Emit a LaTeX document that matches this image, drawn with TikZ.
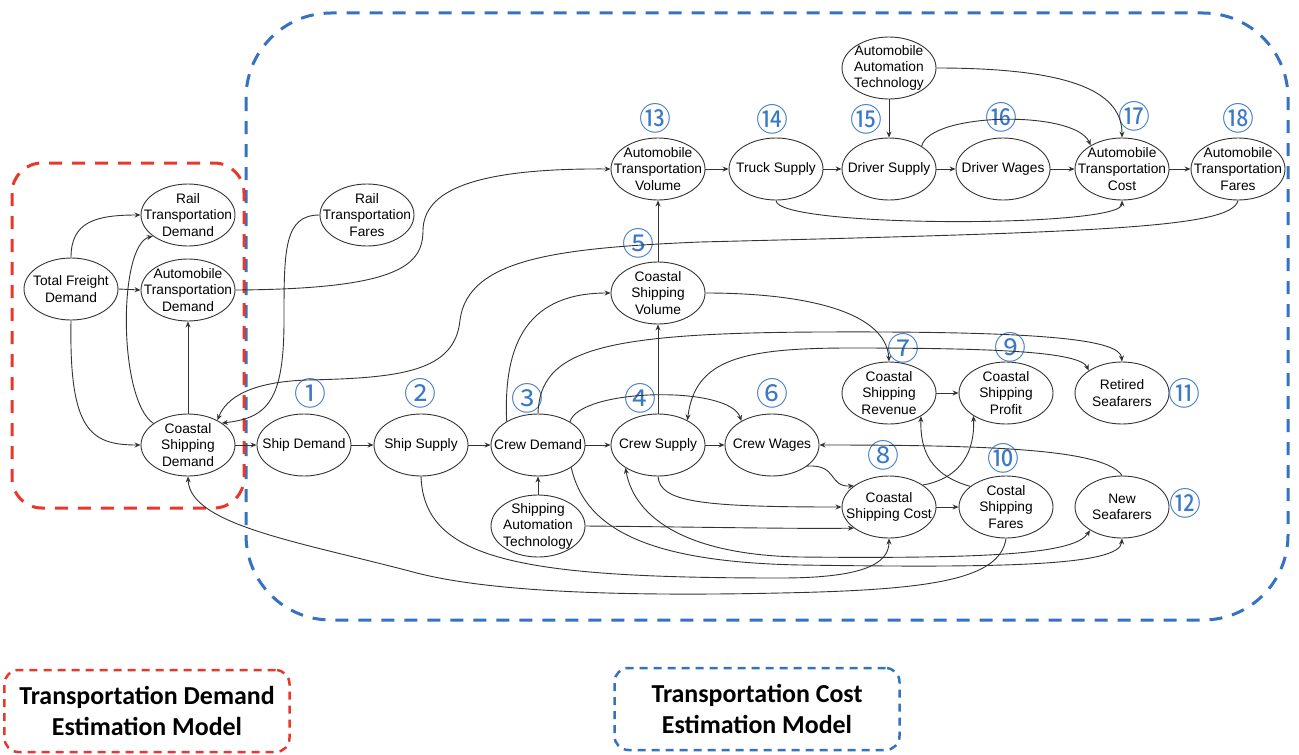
\documentclass[tikz,border=0pt]{standalone}
\usepackage{fontspec}
\setmainfont{Liberation Sans}
\newfontfamily\cjkfont{Noto Sans CJK SC}
\newfontfamily\legfont{Carlito}
\usetikzlibrary{shapes.geometric,arrows.meta}
\definecolor{linec}{HTML}{333333}
\definecolor{numblue}{HTML}{3A78C8}
\definecolor{boxblue}{HTML}{3572C0}
\definecolor{boxred}{HTML}{E8382B}
\newcommand\EN[3]{\node[ell,label={[txt]center:#3}] (#1) at (#2) {};}
\begin{document}
\begin{tikzpicture}[x=1bp,y=-1bp,
 ell/.style={ellipse,draw=linec,line width=0.9bp,minimum width=94bp,minimum height=62bp,inner sep=0pt},
 txt/.style={align=center,font=\fontsize{13.8}{16.5}\selectfont,inner sep=0pt,text=black},
 num/.style={text=numblue,font=\cjkfont\fontsize{32}{32}\selectfont,inner sep=0pt},
 con/.style={draw=linec,line width=0.9bp,-{Stealth[length=6bp,width=5bp]}},
 bicon/.style={draw=linec,line width=0.9bp,{Stealth[length=6bp,width=5bp]}-{Stealth[length=6bp,width=5bp]}},
 bigbox/.style={line width=3bp,dash pattern=on 13bp off 10bp},
 legbox/.style={line width=2.5bp,dash pattern=on 8bp off 6bp,rounded corners=14bp,minimum width=285bp,minimum height=82bp,align=center,font=\legfont\bfseries\fontsize{26}{32}\selectfont,inner sep=0pt}]
\useasboundingbox (0,0) rectangle (1299,754);
% regions
\draw[bigbox,draw=boxblue,rounded corners=85bp] (246,13) rectangle (1288,620);
\draw[bigbox,draw=boxred,rounded corners=30bp] (12,163) rectangle (244,508);
% nodes
\EN{tfd}{71,289}{Total Freight\\Demand}
\EN{rtd}{188,215}{Rail\\Transportation\\Demand}
\EN{atd}{188,290}{Automobile\\Transportation\\Demand}
\EN{csd}{188,445}{Coastal\\Shipping\\Demand}
\EN{rtf}{367,215}{Rail\\Transportation\\Fares}
\EN{sd}{304,445}{Ship Demand}
\EN{ss}{421,445}{Ship Supply}
\EN{crd}{538,445}{Crew Demand}
\EN{crs}{658,445}{Crew Supply}
\EN{cw}{772,445}{Crew Wages}
\EN{sat}{538,526}{Shipping\\Automation\\Technology}
\EN{csv}{658,293}{Coastal\\Shipping\\Volume}
\EN{atv}{658,169}{Automobile\\Transportation\\Volume}
\EN{ts}{776,169}{Truck Supply}
\EN{ds}{889,169}{Driver Supply}
\EN{dw}{1003,169}{Driver Wages}
\EN{atc}{1122,169}{Automobile\\Transportation\\Cost}
\EN{atf}{1238,169}{Automobile\\Transportation\\Fares}
\EN{aat}{889,68}{Automobile\\Automation\\Technology}
\EN{csr}{889,393}{Coastal\\Shipping\\Revenue}
\EN{csp}{1006,393}{Coastal\\Shipping\\Profit}
\EN{rs}{1122,393}{Retired\\Seafarers}
\EN{csc}{889,507}{Coastal\\Shipping Cost}
\EN{csf}{1006,507}{Costal\\Shipping\\Fares}
\EN{ns}{1122,507}{New\\Seafarers}
% numbers
\node[num] (n1) at (310,393) {①};
\node[num] (n2) at (420,393) {②};
\node[num] (n3) at (527,398) {③};
\node[num] (n4) at (640,398) {④};
\node[num] (n5) at (638,243) {⑤};
\node[num] (n6) at (772,393) {⑥};
\node[num] (n7) at (903,348) {⑦};
\node[num] (n8) at (883,455) {⑧};
\node[num] (n9) at (1010,347) {⑨};
\node[num] (n10) at (1003,458) {⑩};
\node[num] (n11) at (1184,393) {⑪};
\node[num] (n12) at (1185,503) {⑫};
\node[num] (n13) at (655,118) {⑬};
\node[num] (n14) at (772,119) {⑭};
\node[num] (n15) at (866,119) {⑮};
\node[num] (n16) at (1001,117) {⑯};
\node[num] (n17) at (1134,116) {⑰};
\node[num] (n18) at (1238,118) {⑱};
% left model edges
\draw[con] (tfd.north) .. controls (71,222) and (95,215) .. (rtd.west);
\draw[con] (tfd.east) -- (atd.west);
\draw[con] (tfd.south) .. controls (69,430) and (90,445) .. (csd.west);
\draw[con] (csd.148) .. controls (118,400) and (118,245) .. (rtd.211);
\draw[con] (csd.north) -- (atd.south);
\draw[con] (csd.east) -- (sd.west);
\draw[con] (rtf.west) .. controls (284,215) and (284,250) .. (284,320) .. controls (284,400) and (268,418) .. (csd.33);
\draw[con] (atd.east) .. controls (400,289) and (423,265) .. (423,230) .. controls (424,192) and (470,168) .. (atv.west);
\draw[con] (atf.south) .. controls (1232,228) and (1100,232) .. (700,242) .. controls (560,248) and (468,258) .. (460,320) .. controls (455,372) and (400,378) .. (307,380) .. controls (250,382) and (226,398) .. (csd.40);
\draw[con] (csf.south) .. controls (1000,580) and (930,590) .. (780,593) .. controls (600,597) and (480,590) .. (413,572) .. controls (300,542) and (190,525) .. (csd.south);
% main chain
\draw[con] (sd.east) -- (ss.west);
\draw[con] (ss.east) -- (crd.west);
\draw[con] (crd.east) -- (crs.west);
\draw[con] (crs.east) -- (cw.west);
\draw[con] (sat.north) -- (crd.south);
\draw[con] (crs.north) -- (csv.south);
\draw[con] (csv.north) -- (atv.south);
\draw[con] (ss.south) .. controls (424,560) and (520,578) .. (780,578) .. controls (860,578) and (889,565) .. (csc.south);
\draw[con] (crd.326) .. controls (585,530) and (650,562) .. (800,565) .. controls (1000,568) and (1120,566) .. (ns.south);
\draw[bicon] (crs.215) .. controls (635,520) and (690,555) .. (800,557) .. controls (1000,559) and (1075,553) .. (ns.216);
\draw[con] (crd.143) .. controls (503,340) and (530,293) .. (csv.west);
\draw[con] (crd.north) .. controls (540,350) and (600,333) .. (820,332) .. controls (1050,331) and (1120,340) .. (rs.north);
\draw[bicon] (crs.40) .. controls (695,360) and (740,348) .. (850,348) .. controls (1000,348) and (1080,352) .. (rs.146);
\draw[con] (crd.36) .. controls (580,388) and (730,385) .. (cw.142);
\draw[con] (csv.east) .. controls (800,293) and (886,310) .. (csr.north);
\draw[con] (sat.east) .. controls (700,527) and (800,529) .. (csc.211);
\draw[con] (crs.south) .. controls (660,502) and (700,507) .. (csc.west);
\draw[con] (cw.329) .. controls (838,464) and (828,487) .. (csc.149);
\draw[con] (csc.east) -- (csf.west);
\draw[con] (csr.east) -- (csp.west);
\draw[con] (csc.33) .. controls (962,478) and (975,450) .. (csp.215);
\draw[con] (csf.150) .. controls (930,475) and (920,450) .. (csr.324);
\draw[con] (ns.north) .. controls (1105,450) and (1000,445) .. (cw.east);
% top chain
\draw[con] (atv.east) -- (ts.west);
\draw[con] (ts.east) -- (ds.west);
\draw[con] (ds.east) -- (dw.west);
\draw[con] (dw.east) -- (atc.west);
\draw[con] (atc.east) -- (atf.west);
\draw[con] (aat.south) -- (ds.north);
\draw[con] (aat.east) .. controls (1080,68) and (1122,95) .. (atc.north);
\draw[con] (ds.35) .. controls (930,112) and (1075,110) .. (atc.143);
\draw[con] (ts.south) .. controls (776,228) and (1122,228) .. (atc.south);
% legend
\node[legbox,draw=boxred] (leg1) at (147,711) {Transportation Demand\\Estimation Model};
\node[legbox,draw=boxblue] (leg2) at (757,709) {Transportation Cost\\Estimation Model};
\end{tikzpicture}
\end{document}
